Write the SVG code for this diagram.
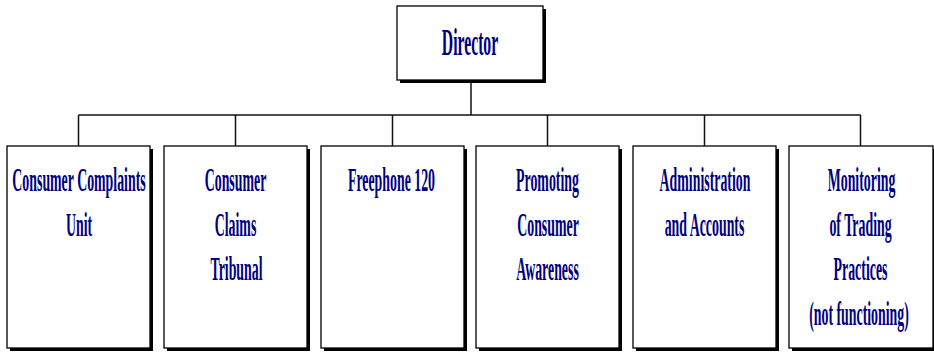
<svg xmlns="http://www.w3.org/2000/svg" width="934" height="352" viewBox="0 0 934 352">
  <defs>
    <style>
      .shadow { fill: #000; }
      .box { fill: #fff; stroke: #000; stroke-width: 1.3; }
      .lbl { font-family: "Liberation Serif", "Times New Roman", serif; font-weight: bold; font-size: 33px; fill: #00007f; text-anchor: middle; }
      .top { font-size: 37px; }
      .wire { fill: none; stroke: #111; stroke-width: 1.5; }
    </style>
  </defs>
  <rect width="934" height="352" fill="#fff"/>

  <!-- connectors -->
  <g id="connectors">
    <path class="wire" d="M471 83 V115"/>
    <path class="wire" d="M78.5 115 H860.5"/>
    <path class="wire" d="M78.5 115 V146 M235.5 115 V146 M392.5 115 V146 M547.5 115 V146 M704.5 115 V146 M860.5 115 V146"/>
  </g>

  <!-- labels use a narrow horizontal scale for the condensed lettering -->
  <g id="director">
    <rect class="shadow" x="400" y="9" width="146" height="74"/>
    <rect class="box" x="397" y="6" width="146" height="74"/>
    <text class="lbl top" transform="translate(470 55) scale(0.425 1)">Director</text>
  </g>

  <g id="complaints">
    <rect class="shadow" x="10" y="149" width="143" height="202"/>
    <rect class="box" x="7" y="146" width="143" height="202"/>
    <text class="lbl" transform="translate(79 191) scale(0.42 1)">Consumer Complaints</text>
    <text class="lbl" transform="translate(79 235.5) scale(0.42 1)">Unit</text>
  </g>

  <g id="tribunal">
    <rect class="shadow" x="167" y="149" width="143" height="202"/>
    <rect class="box" x="164" y="146" width="143" height="202"/>
    <text class="lbl" transform="translate(235.5 191) scale(0.42 1)">Consumer</text>
    <text class="lbl" transform="translate(235.5 235.5) scale(0.42 1)">Claims</text>
    <text class="lbl" transform="translate(236.5 280) scale(0.42 1)">Tribunal</text>
  </g>

  <g id="freephone">
    <rect class="shadow" x="324" y="149" width="143" height="202"/>
    <rect class="box" x="321" y="146" width="143" height="202"/>
    <text class="lbl" transform="translate(391.5 191) scale(0.42 1)">Freephone 120</text>
  </g>

  <g id="awareness">
    <rect class="shadow" x="479" y="149" width="143" height="202"/>
    <rect class="box" x="476" y="146" width="143" height="202"/>
    <text class="lbl" transform="translate(547.5 191) scale(0.42 1)">Promoting</text>
    <text class="lbl" transform="translate(548 235.5) scale(0.42 1)">Consumer</text>
    <text class="lbl" transform="translate(547.5 280) scale(0.42 1)">Awareness</text>
  </g>

  <g id="administration">
    <rect class="shadow" x="636" y="149" width="143" height="202"/>
    <rect class="box" x="633" y="146" width="143" height="202"/>
    <text class="lbl" transform="translate(705 191) scale(0.42 1)">Administration</text>
    <text class="lbl" transform="translate(704.5 235.5) scale(0.42 1)">and Accounts</text>
  </g>

  <g id="monitoring">
    <rect class="shadow" x="792" y="149" width="144" height="202"/>
    <rect class="box" x="789" y="146" width="144" height="202"/>
    <text class="lbl" transform="translate(861.5 191) scale(0.42 1)">Monitoring</text>
    <text class="lbl" transform="translate(860.5 235.5) scale(0.42 1)">of Trading</text>
    <text class="lbl" transform="translate(860.5 280) scale(0.42 1)">Practices</text>
    <text class="lbl" transform="translate(859 324.5) scale(0.42 1)">(not functioning)</text>
  </g>
</svg>
